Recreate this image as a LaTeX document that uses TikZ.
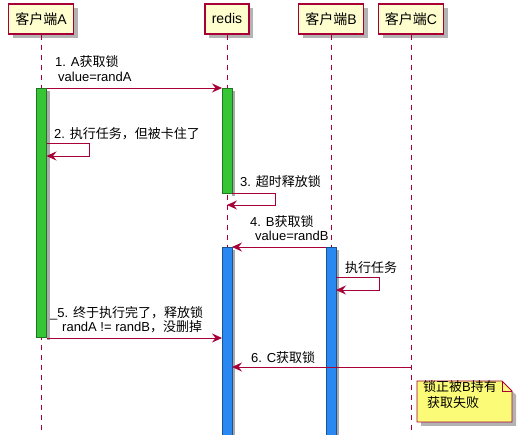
\documentclass[tikz,border=0pt]{standalone}
\usepackage{fontspec}
\setmainfont{Liberation Sans}
\newfontfamily\zhfont{Noto Sans CJK SC}
\newcommand\zh[1]{{\zhfont #1}}
\usetikzlibrary{arrows.meta,shadows}
\definecolor{pumlred}{HTML}{A80036}
\definecolor{pumlbox}{HTML}{FEFECE}
\definecolor{actgreen}{HTML}{35C535}
\definecolor{actblue}{HTML}{2A88F2}
\definecolor{notey}{HTML}{FBFB77}
\definecolor{shadowgray}{HTML}{A0A0A0}
\begin{document}
\begin{tikzpicture}[x=1pt,y=-1pt,
  part/.style={draw=pumlred, fill=pumlbox, line width=1.1pt, minimum height=30pt,
    inner sep=0pt, font=\fontsize{14}{16}\selectfont,
    drop shadow={shadow xshift=4pt, shadow yshift=-4pt, fill=shadowgray, opacity=0.8}},
  life/.style={draw=pumlred, line width=0.7pt, dash pattern=on 5pt off 5pt},
  msg/.style={draw=pumlred, line width=0.8pt, -{Stealth[length=10pt,width=9pt,inset=3.5pt]}},
  lbl/.style={anchor=base west, inner sep=0pt, font=\fontsize{13}{15}\selectfont},
  actshadow/.style={fill=shadowgray, opacity=0.9},
  actg/.style={fill=actgreen, draw=actgreen!60!black, line width=0.4pt},
  actb/.style={fill=actblue, draw=actblue!60!black, line width=0.4pt},
  notebox/.style={draw=pumlred, fill=notey, line width=0.8pt, line join=miter},
]
\useasboundingbox (0,0) rectangle (523,435);
\fill[white] (0,0) rectangle (523,435);

% participants
\node[part, minimum width=65pt] (pa) at (41,19) {\zh{客户端}A};
\node[part, minimum width=44pt] (pr) at (227,19) {redis};
\node[part, minimum width=65pt] (pb) at (331,19) {\zh{客户端}B};
\node[part, minimum width=65pt] (pc) at (411,19) {\zh{客户端}C};

% lifeline ends
\coordinate (ea) at (41,435);
\coordinate (er) at (227,435);
\coordinate (eb) at (331,435);
\coordinate (ec) at (411,435);
\draw[life] (pa.south) -- (ea);
\draw[life] (pr.south) -- (er);
\draw[life] (pb.south) -- (eb);
\draw[life] (pc.south) -- (ec);

% activations
\fill[actshadow] (47,91) rectangle (50,340);
\draw[actg] (36.5,88) rectangle (46.5,337);
\fill[actshadow] (232,91) rectangle (235,196);
\draw[actg] (222,88) rectangle (232,193);
\fill[actshadow] (232,250) rectangle (235,436);
\draw[actb] (222,247) rectangle (232,436);
\fill[actshadow] (336,250) rectangle (339,436);
\draw[actb] (326,247) rectangle (336,436);

% coordinates for messages
\coordinate (m1s) at (46.5,88);
\coordinate (m1e) at (222,88);
\coordinate (m2a) at (46.5,143);
\coordinate (m2b) at (89,143);
\coordinate (m2c) at (89,156);
\coordinate (m2d) at (46.5,156);
\coordinate (m3a) at (232,193);
\coordinate (m3b) at (275,193);
\coordinate (m3c) at (275,205);
\coordinate (m3d) at (227,205);
\coordinate (m4s) at (326,247);
\coordinate (m4e) at (232,247);
\coordinate (mba) at (336,277);
\coordinate (mbb) at (379,277);
\coordinate (mbc) at (379,290);
\coordinate (mbd) at (336,290);
\coordinate (m5s) at (46.5,338);
\coordinate (m5e) at (222,338);
\coordinate (m6s) at (411,367);
\coordinate (m6e) at (232,367);

% messages
\draw[msg] (m1s) -- (m1e);
\node[lbl] (t1a) at (55,67) {1. A\zh{获取锁}};
\node[lbl] (t1b) at (58,82) {value=randA};

\draw[msg] (m2a) -- (m2b) -- (m2c) -- (m2d);
\node[lbl] (t2) at (54,139) {2. \zh{执行任务，但被卡住了}};

\draw[msg] (m3a) -- (m3b) -- (m3c) -- (m3d);
\node[lbl] (t3) at (240,187) {3. \zh{超时释放锁}};

\draw[msg] (m4s) -- (m4e);
\node[lbl] (t4a) at (250,227) {4. B\zh{获取锁}};
\node[lbl] (t4b) at (255,241) {value=randB};

\draw[msg] (mba) -- (mbb) -- (mbc) -- (mbd);
\node[lbl] (tb) at (345,273) {\zh{执行任务}};

\draw[msg] (m5s) -- (m5e);
\node[lbl] (t5a) at (50,318) {\_5. \zh{终于执行完了，释放锁}};
\node[lbl] (t5b) at (62,332) {randA != randB\zh{，没删掉}};

\draw[msg] (m6s) -- (m6e);
\node[lbl] (t6) at (251,363) {6. C\zh{获取锁}};

% note
\fill[shadowgray, opacity=0.8] (421,385) -- (506,385) -- (516,395) -- (516,426) -- (421,426) -- cycle;
\draw[notebox] (417,381) -- (502,381) -- (512,391) -- (512,422) -- (417,422) -- cycle;
\draw[pumlred, line width=0.8pt] (502,381) -- (502,391) -- (512,391);
\node[lbl] (n1) at (423,392) {\zh{锁正被}B\zh{持有}};
\node[lbl] (n2) at (427,408) {\zh{获取失败}};
\end{tikzpicture}
\end{document}
